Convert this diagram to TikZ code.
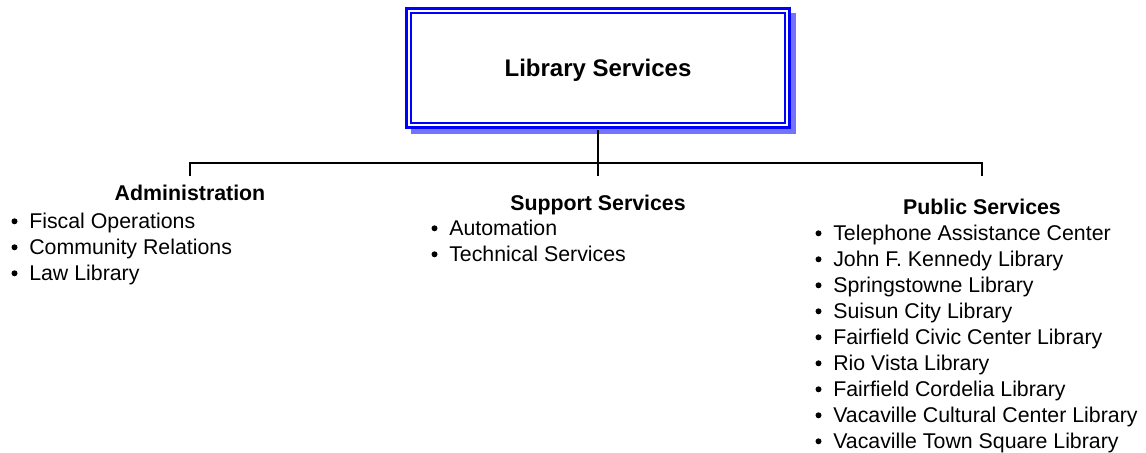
\documentclass[tikz,border=0pt]{standalone}
\usepackage{fontspec}
\setmainfont{Liberation Sans}
\usetikzlibrary{positioning, shadows, backgrounds}

\begin{document}
\begin{tikzpicture}[
  x=0.75pt, y=-0.75pt,
  topbox/.style={draw=blue, double=white, double distance=1.6pt, line width=1.9pt,
                 fill=white, minimum width=284pt, minimum height=86pt,
                 text height=13.5pt, text depth=0pt,
                 font=\fontsize{18}{22}\selectfont\bfseries,
                 drop shadow={shadow xshift=4.1pt, shadow yshift=-4.1pt,
                              fill=blue!55, draw=blue!55, line width=5.4pt, opacity=1}},
  head/.style={anchor=base, inner sep=0pt, font=\fontsize{16}{19.5}\selectfont\bfseries},
  item/.style={anchor=base west, inner sep=0pt, font=\fontsize{16}{19.5}\selectfont},
  dot/.style={fill=black},
  link/.style={line width=1.5pt, color=black},
]
\useasboundingbox (0,0) rectangle (1146,453);

% Nodes
\node[topbox] (top) at (598,68) {Library Services};

\node[head] (adm) at (190,200) {Administration};
\node[head] (sup) at (598,210) {Support Services};
\node[head] (pub) at (982,214) {Public Services};

\foreach \t [count=\i] in {Fiscal Operations, Community Relations, Law Library}{
  \node[item] (adm\i) at (29,{228+26*(\i-1)}) {\t};
  \fill[dot] ([shift={(-14.5,-6.7)}]adm\i.base west) circle (3);
}
\foreach \t [count=\i] in {Automation, Technical Services}{
  \node[item] (sup\i) at (449,{235+26*(\i-1)}) {\t};
  \fill[dot] ([shift={(-14.5,-6.7)}]sup\i.base west) circle (3);
}
\foreach \t [count=\i] in {Telephone Assistance Center, John F. Kennedy Library,
    Springstowne Library, Suisun City Library, Fairfield Civic Center Library,
    Rio Vista Library, Fairfield Cordelia Library, Vacaville Cultural Center Library,
    Vacaville Town Square Library}{
  \node[item] (pub\i) at (833,{240+26*(\i-1)}) {\t};
  \fill[dot] ([shift={(-14.5,-6.7)}]pub\i.base west) circle (3);
}

% Connectors
\coordinate (bus) at (598,163);
\coordinate (admtop) at (190,176);
\coordinate (suptop) at (598,176);
\coordinate (pubtop) at (982,176);

\draw[link, shorten <=2.6pt] (top) -- (suptop);
\draw[link] (admtop) |- (bus) -| (pubtop);

\end{tikzpicture}
\end{document}
